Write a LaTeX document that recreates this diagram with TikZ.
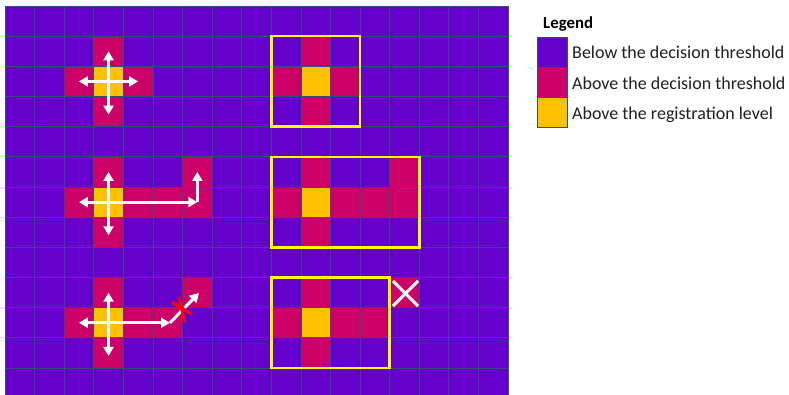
\documentclass[tikz,border=0pt]{standalone}
\usepackage{fontspec}
\setmainfont{Carlito}
\usetikzlibrary{arrows.meta}
\definecolor{pur}{HTML}{6600CC}
\definecolor{mag}{HTML}{CC0066}
\definecolor{gold}{HTML}{FFC000}
\definecolor{gridc}{HTML}{30507A}
\definecolor{boxy}{HTML}{FFFF00}
\definecolor{txt}{HTML}{202020}
\tikzset{
  warrow/.style={draw=white, line width=3pt, -{Triangle[width=10pt,length=9pt]}},
  ybox/.style={draw=boxy, line width=2.5pt},
  cross/.style={line width=3pt},
  legtext/.style={anchor=base west, inner sep=0pt, text=txt, font=\fontsize{18}{21}\selectfont},
  swatch/.style={draw=gridc, line width=1pt}
}
\newcommand{\CW}{29.59}
\newcommand{\CH}{30.17}
\begin{document}
\begin{tikzpicture}[x=1pt,y=-1pt]
\useasboundingbox (0,0) rectangle (789,394);
\fill[white] (0,0) rectangle (789,394);
\begin{scope}
\clip (0,0) rectangle (789,394);
\fill[pur] (5,6) rectangle (508,400);
\foreach \c/\r in {3/1,2/2,4/2,3/3, 10/1,9/2,11/2,10/3,
  3/5,6/5,2/6,4/6,5/6,6/6,3/7, 10/5,13/5,9/6,11/6,12/6,13/6,10/7,
  3/9,6/9,2/10,4/10,5/10,3/11, 10/9,13/9,9/10,11/10,12/10,10/11}
  \fill[mag] ({5+\CW*\c},{6+\CH*\r}) rectangle ++(\CW,\CH);
\foreach \c/\r in {3/2,10/2,3/6,10/6,3/10,10/10}
  \fill[gold] ({5+\CW*\c},{6+\CH*\r}) rectangle ++(\CW,\CH);
\foreach \i in {0,...,17}
  \draw[gridc, line width=0.8pt] ({5+\CW*\i},6) -- ({5+\CW*\i},400);
\foreach \j in {0,...,13}
  \draw[gridc, line width=0.8pt] (5,{6+\CH*\j}) -- (508,{6+\CH*\j});
\end{scope}
% yellow boxes
\draw[ybox] ({5+\CW*9},{6+\CH*1}) rectangle ({5+\CW*12},{6+\CH*4});
\draw[ybox] ({5+\CW*9},{6+\CH*5}) rectangle ({5+\CW*14},{6+\CH*8});
\draw[ybox] ({5+\CW*9},{6+\CH*9}) rectangle ({5+\CW*13},{6+\CH*12});
% coordinates
\coordinate (a0) at ({5+\CW*3.5},{6+\CH*2.5});
\coordinate (aU) at ({5+\CW*3.5},{6+\CH*1.5});
\coordinate (aD) at ({5+\CW*3.5},{6+\CH*3.6});
\coordinate (aL) at ({5+\CW*2.5},{6+\CH*2.5});
\coordinate (aR) at ({5+\CW*4.5},{6+\CH*2.5});
\coordinate (b0) at ({5+\CW*3.5},{6+\CH*6.5});
\coordinate (bU) at ({5+\CW*3.5},{6+\CH*5.5});
\coordinate (bD) at ({5+\CW*3.5},{6+\CH*7.6});
\coordinate (bL) at ({5+\CW*2.5},{6+\CH*6.5});
\coordinate (bR) at ({5+\CW*6.5},{6+\CH*6.5});
\coordinate (bRU) at ({5+\CW*6.5},{6+\CH*5.5});
\coordinate (c0) at ({5+\CW*3.5},{6+\CH*10.5});
\coordinate (cU) at ({5+\CW*3.5},{6+\CH*9.5});
\coordinate (cD) at ({5+\CW*3.5},{6+\CH*11.6});
\coordinate (cL) at ({5+\CW*2.5},{6+\CH*10.5});
\coordinate (cR) at (170,{6+\CH*10.5});
\coordinate (cT) at (199,293);
% arrows
\draw[warrow] (a0) -- (aU);
\draw[warrow] (a0) -- (aD);
\draw[warrow] (a0) -- (aL);
\draw[warrow] (a0) -- (aR);
\draw[warrow] (b0) -- (bU);
\draw[warrow] (b0) -- (bD);
\draw[warrow] (b0) -- (bL);
\draw[warrow] (b0) -- (bR);
\draw[warrow] (bR) -- (bRU);
\draw[warrow] (c0) -- (cU);
\draw[warrow] (c0) -- (cD);
\draw[warrow] (c0) -- (cL);
\draw[warrow] (c0) -- (cR);
\draw[warrow] (cR) -- (cT);
% red cross
\coordinate (r1) at (172,302); \coordinate (r2) at (192,314);
\coordinate (r3) at (179,297); \coordinate (r4) at (185,322);
\draw[cross, red] (r1) -- (r2);
\draw[cross, red] (r3) -- (r4);
% white cross
\coordinate (w1) at (393,281); \coordinate (w2) at (418,306);
\coordinate (w3) at (418,281); \coordinate (w4) at (393,306);
\draw[cross, white] (w1) -- (w2);
\draw[cross, white] (w3) -- (w4);
% legend
\node[anchor=base west, inner sep=0pt, text=black, font=\fontsize{16.8}{19}\selectfont\bfseries] (leg) at (543,28.7) {Legend};
\draw[swatch, fill=pur] (537,37) rectangle (567,67);
\draw[swatch, fill=mag] (537,67) rectangle (567,97);
\draw[swatch, fill=gold] (537,97) rectangle (567,127);
\node[legtext] (l1) at (572,58.8) {Below the decision threshold};
\node[legtext] (l2) at (572,89) {Above the decision threshold};
\node[legtext] (l3) at (572,119.3) {Above the registration level};
\end{tikzpicture}
\end{document}
